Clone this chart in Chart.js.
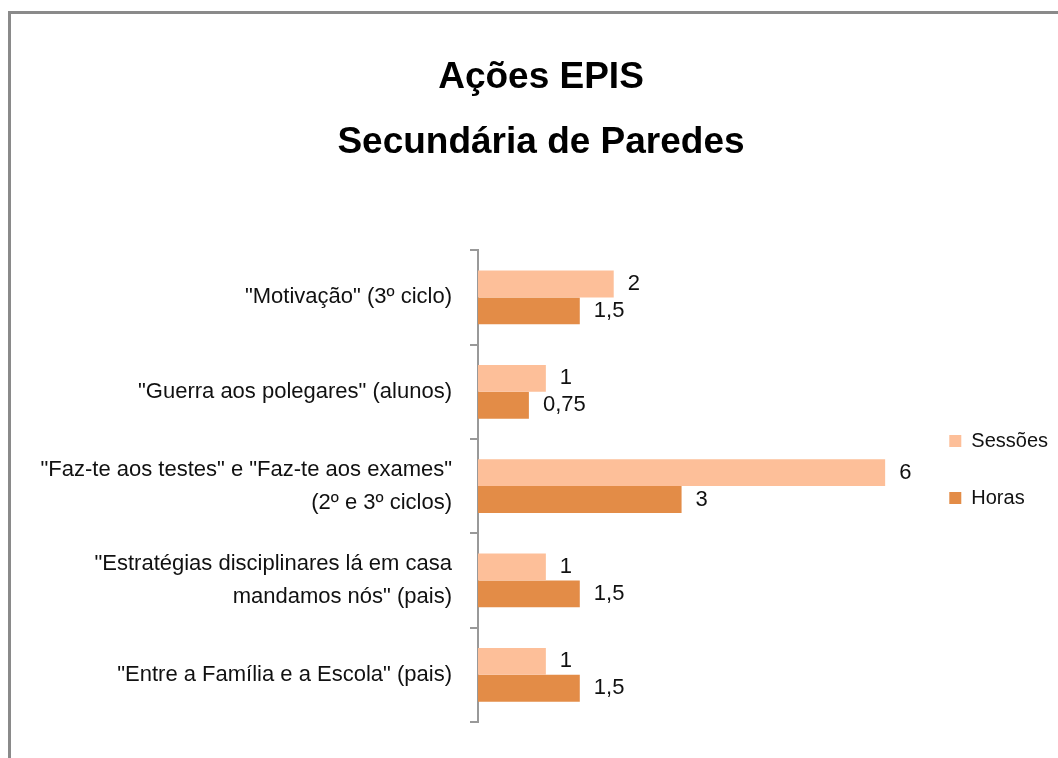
<!DOCTYPE html>
<html>
<head>
<meta charset="utf-8">
<script src="https://cdn.jsdelivr.net/npm/chart.js@4"></script>
<style>
  body { margin: 0; background: #fff; }
  #wrap { position: relative; width: 1058px; height: 758px; overflow: hidden; }
  #frame { position: absolute; left: 8px; top: 11px; right: 0; bottom: -10px;
           border-top: 3px solid #8a8a8a; border-left: 3px solid #8a8a8a; }
  #myChart { position: absolute; left: 0; top: 0; }
</style>
</head>
<body>
<div id="wrap">
  <div id="frame"></div>
  <canvas id="myChart" width="1058" height="758"></canvas>
</div>
<script>
// categorias (de cima para baixo)
const categorias = [
  '"Motivação" (3º ciclo)',
  '"Guerra aos polegares" (alunos)',
  ['"Faz-te aos testes" e "Faz-te aos exames"', '(2º e 3º ciclos)'],
  ['"Estratégias disciplinares lá em casa', 'mandamos nós" (pais)'],
  '"Entre a Família e a Escola" (pais)'
];
const sessoes = [2, 1, 6, 1, 1];
const horas = [1.5, 0.75, 3, 1.5, 1.5];
const titulo = ['Ações EPIS', 'Secundária de Paredes'];

const fonte = "'Liberation Sans', Arial, sans-serif";

// rótulos de valor no fim de cada barra
const valores = {
  id: 'valores',
  afterDatasetsDraw(chart) {
    const ctx = chart.ctx;
    ctx.save();
    ctx.font = '22px ' + fonte;
    ctx.fillStyle = '#111';
    ctx.textAlign = 'left';
    ctx.textBaseline = 'middle';
    chart.data.datasets.forEach((ds, i) => {
      chart.getDatasetMeta(i).data.forEach((bar, j) => {
        ctx.fillText(String(ds.data[j]).replace('.', ','), bar.x + 14, bar.y);
      });
    });
    ctx.restore();
  }
};

// legenda centrada na zona do gráfico, um pouco acima
const posLegenda = {
  id: 'posLegenda',
  afterLayout(chart) {
    const lg = chart.legend;
    lg.top = chart.chartArea.top;
    lg.bottom -= 33;
    lg.height = lg.bottom - lg.top;
  }
};

new Chart(document.getElementById('myChart'), {
  type: 'bar',
  data: {
    labels: categorias,
    datasets: [{
      label: 'Sessões',
      data: sessoes,
      backgroundColor: '#FDBF99',
      borderWidth: 0
    }, {
      label: 'Horas',
      data: horas,
      backgroundColor: '#E38C47',
      borderWidth: 0
    }]
  },
  options: {
    indexAxis: 'y',
    responsive: false,
    animation: false,
    categoryPercentage: 0.57,
    barPercentage: 1.0,
    layout: { padding: { left: 24, right: 0, top: 0, bottom: 36 } },
    scales: {
      x: { display: false, min: 0, max: 6.4 },
      y: {
        afterFit: (s) => { s.width = 454; },
        grid: { drawOnChartArea: false, drawTicks: true, tickLength: 8, color: '#999', lineWidth: 2, offset: true },
        border: { display: true, color: '#999', width: 2 },
        ticks: { color: '#111', padding: 18, font: { family: fonte, size: 22, lineHeight: 1.5 } }
      }
    },
    plugins: {
      title: {
        display: true,
        text: titulo,
        color: '#000',
        font: { family: fonte, size: 37, weight: 'bold', lineHeight: 1.76 },
        padding: { top: 45, bottom: 75 }
      },
      legend: {
        position: 'right',
        labels: {
          boxWidth: 12, boxHeight: 12, padding: 37, color: '#111',
          font: { family: fonte, size: 20 }
        }
      },
      tooltip: { enabled: false }
    }
  },
  plugins: [valores, posLegenda]
});
</script>
</body>
</html>
